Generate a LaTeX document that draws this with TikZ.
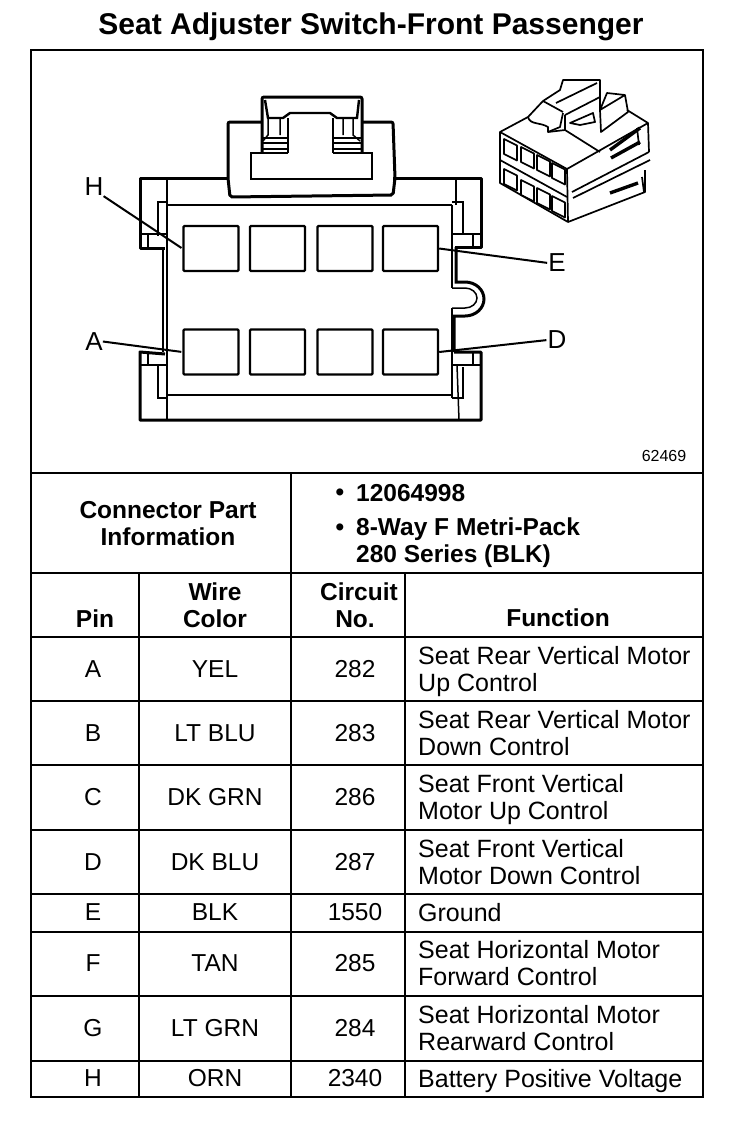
\documentclass[tikz,border=0pt]{standalone}
\usepackage{fontspec}
\setmainfont{Liberation Sans}
\usetikzlibrary{positioning}
\tikzset{
  thick line/.style={line width=2.4pt},
  wire line/.style={line width=1.5pt},
  body line/.style={line width=3pt},
  cavity/.style={draw, line width=2.4pt, rounded corners=1pt, minimum width=55pt, minimum height=45pt, inner sep=0pt},
  cell/.style={font=\fontsize{24.5}{27}\selectfont, inner sep=0pt, text depth=0pt},
  cellhead/.style={font=\fontsize{24.5}{27}\bfseries\selectfont, inner sep=0pt, align=center},
  infotext/.style={font=\fontsize{24.5}{27}\bfseries\selectfont, inner sep=0pt, align=left},
  fn/.style={font=\fontsize{25}{27}\selectfont, inner sep=0pt, align=left, anchor=west, text depth=0pt},
  pinlabel/.style={font=\fontsize{26}{28}\selectfont, inner sep=0pt},
  leader/.style={line width=2pt, shorten >=1pt},
}
\begin{document}
\begin{tikzpicture}[x=1pt,y=-1pt]
\useasboundingbox (0,0) rectangle (736,1138);
\fill[white] (0,0) rectangle (736,1138);
% title
\node[font=\fontsize{30}{32}\bfseries\selectfont, inner sep=0pt] (title) at (371,27) {Seat Adjuster Switch-Front Passenger};
% table lines
\draw[thick line] (31,50) rectangle (703,1097);
\foreach \y in {473,573,637,701,765,830,894,932,996,1061}
  \draw[thick line] (31,\y) -- (703,\y);
\draw[thick line] (291,473) -- (291,1097);
\draw[thick line] (139,573) -- (139,1097);
\draw[thick line] (405,573) -- (405,1097);
% connector body
\draw[body line, line join=round] (228,178) -- (140,178) -- (140,248) -- (165,248);
\draw[body line, line join=round] (393,178) -- (481,178) -- (481,247) -- (455,247);
\draw[body line, line join=round] (165,354) -- (140,352) -- (140,420) -- (481,420) -- (481,352) -- (454,352);
\draw[wire line] (167,178) -- (167,420);
\draw[wire line] (163,248) -- (163,352);
\draw[wire line] (158,236) -- (158,202) -- (168,202) (168,205) -- (452,205);
\draw[wire line] (168,395) -- (452,395);
\draw[wire line] (158,365) -- (158,398) -- (168,398);
\draw[wire line] (140,234) -- (167,234) (148,234) -- (148,248);
\draw[wire line] (140,365) -- (167,365) (148,352) -- (148,365);
\draw[wire line] (456,178) -- (456,205) (452,205) -- (452,288);
\draw[wire line] (452,202) -- (463,202) -- (463,233);
\draw[wire line] (453,234) -- (481,234) (473,234) -- (473,247);
\draw[wire line] (453,365) -- (481,365) (473,352) -- (473,365);
\draw[wire line] (463,367) -- (463,398) -- (452,398);
\draw[wire line] (452,308) -- (452,398);
\draw[wire line] (457,365) -- (459,420);
% keyway on the right side
\draw[body line] (456,247) -- (456,282) -- (465,282) arc (90:-90:19pt and 17pt) -- (454,316) -- (454,352);
\draw[wire line] (452,288) -- (465,288) arc (90:-90:12pt and 10pt) -- (452,308);
% latch
\draw[body line, rounded corners=2pt] (262,122) -- (228,122) -- (228,178) -- (230,197) -- (393,195) -- (395,178) -- (393,122) -- (362,122);
\draw[body line, rounded corners=2pt] (262,152) -- (262,97) -- (362,97) -- (362,152);
\draw[thick line] (288,153) -- (251,153) -- (251,179) -- (372,179) -- (372,153) -- (333,153);
\draw[thick line] (265,100) -- (268,118) -- (283,118) -- (290,113) -- (330,113) -- (337,118) -- (357,118) -- (359,100);
\draw[thick line] (288,118) -- (288,153) (333,118) -- (333,153);
\draw[wire line] (268,118) -- (268,135) -- (263,141) (280,118) -- (280,135);
\draw[wire line] (353,118) -- (353,135) -- (360,141) (343,118) -- (343,135);
\draw[wire line] (263,138) -- (288,138) (263,143) -- (288,143) (263,149) -- (288,149);
\draw[wire line] (333,138) -- (362,138) (333,143) -- (362,143) (333,149) -- (362,149);
% cavities
\foreach \n/\x/\y in {h/211/248.5,g/277.5/248.5,f/345/248.5,e/410.5/248.5,a/211/352,b/277.5/352,c/345/352,d/410.5/352}
  \node[cavity] (cav\n) at (\x,\y) {};
% labels with leaders
\node[pinlabel] (labH) at (94,187) {H};
\node[pinlabel] (labE) at (557,263) {E};
\node[pinlabel] (labA) at (94,341.5) {A};
\node[pinlabel] (labD) at (557,340) {D};
\draw[leader] (labH.south east) -- (cavh.west);
\draw[leader] (labA.east) -- (cava.west);
\draw[leader] (cave.east) -- (labE.west);
\draw[leader] (cavd.east) -- (labD.west);
% small view of the connector
\begin{scope}[line width=1.7pt, line join=round]
\draw (500,132) -- (500,183) -- (568,222) -- (567,169) -- cycle;
\draw (568,222) -- (645,192) -- (645,170);
\draw (500,160) -- (567,197);
\draw (572,192) -- (649,152) (573,198) -- (650,160);
\draw (567,169) -- (648,123) -- (649,152);
\draw (627,110) -- (648,123);
\draw (500,132) -- (528,117) -- (543,101) -- (563,112);
\draw (528,117) .. controls (530,125) and (540,122) .. (548,127) -- (548,132) -- (560,127) -- (563,113);
\draw (548,132) -- (565,130) -- (600,152);
\draw (565,115) -- (565,130) (565,115) -- (600,97);
\draw (543,101) -- (560,90) -- (563,80) -- (600,80) -- (600,110);
\draw (556,103) -- (597,83);
\draw (600,110) -- (607,93) -- (625,95) -- (628,112) -- (601,132) -- (600,110) -- (625,95);
\draw (570,123) -- (593,113) -- (595,122) -- (580,125) -- cycle;
\draw (637,128) -- (639,145) (642,177) -- (644,192);
\draw[line width=3.4pt] (610,150) -- (640,128) (611,158) -- (640,142) (610,193) -- (638,183);
\foreach \x/\y in {504/139,521/147,537/155,552/163,504/169,521/180,537/188,552/196}
  \draw (\x,\y) -- ++(13,6.5) -- ++(0,15) -- ++(-13,-6.5) -- cycle;
\end{scope}
\node[font=\fontsize{16}{18}\selectfont, inner sep=0pt] (partnum) at (664,456) {62469};
% part information
\node[cellhead] (hconn) at (168,524) {Connector Part\\Information};
\node[infotext] (b1) at (340,495) {•};
\node[infotext] (b2) at (340,530) {•};
\node[infotext, anchor=west] (num) at (356,493) {12064998};
\node[infotext, anchor=north west] (way) at (356,518) {8-Way F Metri-Pack\\280 Series (BLK)};
% header row
\node[cellhead] (hpin) at (95,619) {Pin};
\node[cellhead] (hwire) at (215,605) {Wire\\Color};
\node[cellhead] (hcirc) at (359,605) {Circuit\\No.\hspace*{8pt}};
\node[cellhead] (hfunc) at (558,618) {Function};
% table rows
\foreach \y/\p/\w/\c/\f in {
  669/A/YEL/282/{Seat Rear Vertical Motor\\Up Control},
  733/B/LT BLU/283/{Seat Rear Vertical Motor\\Down Control},
  797/C/DK GRN/286/{Seat Front Vertical\\Motor Up Control},
  862/D/DK BLU/287/{Seat Front Vertical\\Motor Down Control},
  912/E/BLK/1550/{Ground},
  963/F/TAN/285/{Seat Horizontal Motor\\Forward Control},
  1028/G/LT GRN/284/{Seat Horizontal Motor\\Rearward Control},
  1078/H/ORN/2340/{Battery Positive Voltage}}{
  \node[cell] (pin\p) at (93,\y) {\p};
  \node[cell] (wire\p) at (215,\y) {\w};
  \node[cell] (circ\p) at (355,\y) {\c};
  \node[fn] (func\p) at (418,\y) {\f};
}
\end{tikzpicture}
\end{document}
